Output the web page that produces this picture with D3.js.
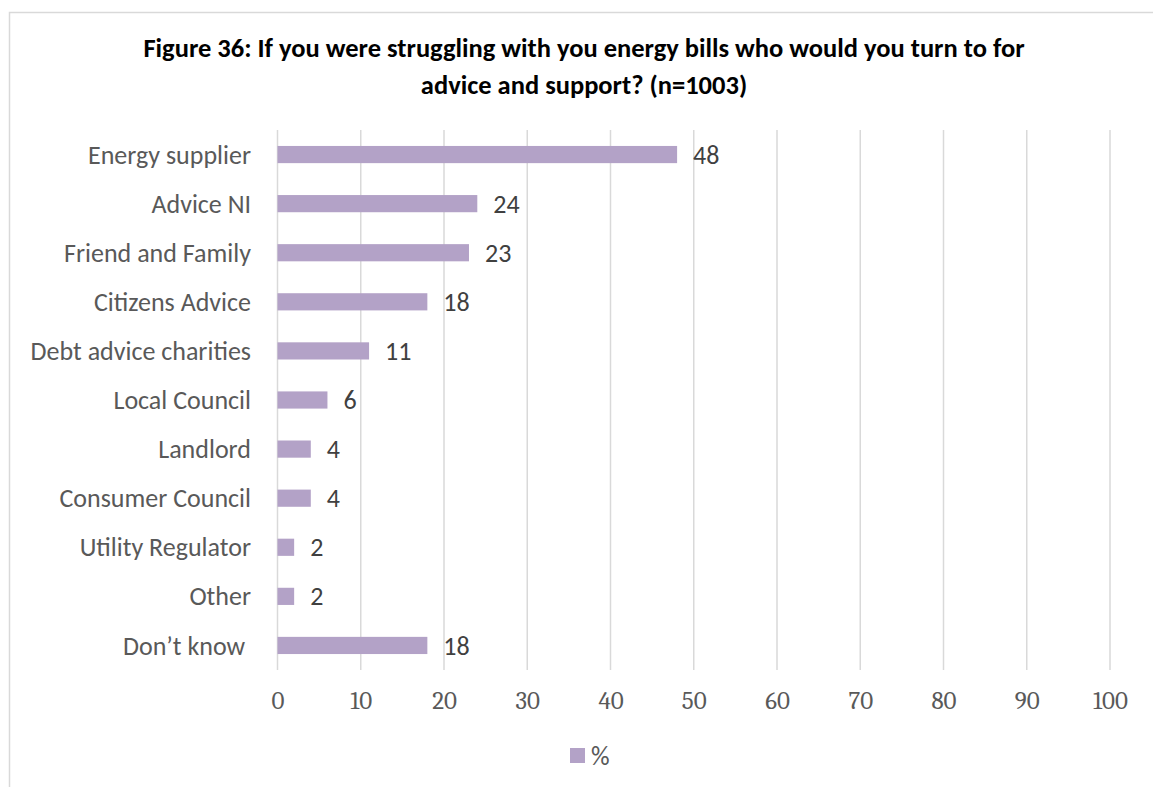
<!DOCTYPE html>
<html>
<head>
<meta charset="utf-8">
<script src="https://cdn.jsdelivr.net/npm/d3@7"></script>
<style>
  html, body { margin: 0; padding: 0; background: #fff; }
  svg { display: block; }
</style>
</head>
<body>
<svg id="chart" width="1153" height="787"></svg>
<script>
// Survey responses: where people would turn for help with energy bills (%)
const categories = [
  "Energy supplier", "Advice NI", "Friend and Family", "Citizens Advice",
  "Debt advice charities", "Local Council", "Landlord", "Consumer Council",
  "Utility Regulator", "Other", "Don\u2019t know\u00a0"
];
const values = [48, 24, 23, 18, 11, 6, 4, 4, 2, 2, 18];
const xTicks = [0, 10, 20, 30, 40, 50, 60, 70, 80, 90, 100];
const titleLines = [
  "Figure 36: If you were struggling with you energy bills who would you turn to for",
  "advice and support? (n=1003)"
];
const seriesName = "%";

const svg = d3.select("#chart");
const barColor = "#b3a2c7";
const sans = "Calibri, Carlito, 'Open Sans', sans-serif";
const serif = "Cambria, Caladea, 'Liberation Serif', 'DejaVu Serif', serif";

// chart area frame
svg.append("rect")
  .attr("x", 9.5).attr("y", 12.5)
  .attr("width", 1160).attr("height", 800)
  .attr("fill", "#fff").attr("stroke", "#d9d9d9").attr("stroke-width", 1.5);

// title
svg.append("g").selectAll("text").data(titleLines).join("text")
  .attr("x", 584)
  .attr("y", (d, i) => 57 + i * 37)
  .attr("text-anchor", "middle")
  .attr("font-family", sans)
  .attr("font-weight", "bold")
  .attr("font-size", 26.5)
  .attr("fill", "#000")
  .text(d => d);

const plot = { left: 277.5, right: 1110, top: 130, bottom: 670 };

const x = d3.scaleLinear().domain([0, 100]).range([plot.left, plot.right]);
const y = d3.scaleBand().domain(categories).range([plot.top, plot.bottom]).paddingInner(0.65).paddingOuter(0.325);

// vertical gridlines
svg.append("g").selectAll("line").data(xTicks).join("line")
  .attr("x1", d => x(d)).attr("x2", d => x(d))
  .attr("y1", plot.top).attr("y2", plot.bottom)
  .attr("stroke", "#d9d9d9").attr("stroke-width", 1.5);

// x axis tick labels
const xAxis = d3.axisBottom(x).tickValues(xTicks).tickSize(0).tickPadding(0);
const gx = svg.append("g").attr("transform", `translate(0,${plot.bottom})`).call(xAxis);
gx.select(".domain").remove();
gx.selectAll("text")
  .attr("dy", 0).attr("y", 39)
  .attr("font-family", serif).attr("font-size", 25).attr("fill", "#595959");

// y axis category labels
const yAxis = d3.axisLeft(y).tickSize(0).tickPadding(0);
const gy = svg.append("g").attr("transform", `translate(${251},0)`).call(yAxis);
gy.select(".domain").remove();
gy.selectAll("text")
  .attr("font-family", sans).attr("font-size", 26).attr("fill", "#595959")
  .attr("dy", "0.35em").style("white-space", "pre");

// bars
svg.append("g").selectAll("rect").data(values).join("rect")
  .attr("x", x(0))
  .attr("y", (d, i) => y(categories[i]))
  .attr("width", d => x(d) - x(0))
  .attr("height", y.bandwidth())
  .attr("fill", barColor);

// value labels
svg.append("g").selectAll("text").data(values).join("text")
  .attr("x", d => x(d) + 16)
  .attr("y", (d, i) => y(categories[i]) + y.bandwidth() / 2)
  .attr("dy", "0.35em")
  .attr("font-family", sans).attr("font-size", 26).attr("fill", "#404040")
  .text(d => d);

// legend
const lg = svg.append("g").attr("transform", "translate(570,748)");
lg.append("rect").attr("width", 15).attr("height", 15).attr("fill", barColor);
lg.append("text").attr("x", 21).attr("y", 7.5).attr("dy", "0.35em")
  .attr("font-family", sans).attr("font-size", 26).attr("fill", "#595959")
  .text(seriesName);
</script>
</body>
</html>
